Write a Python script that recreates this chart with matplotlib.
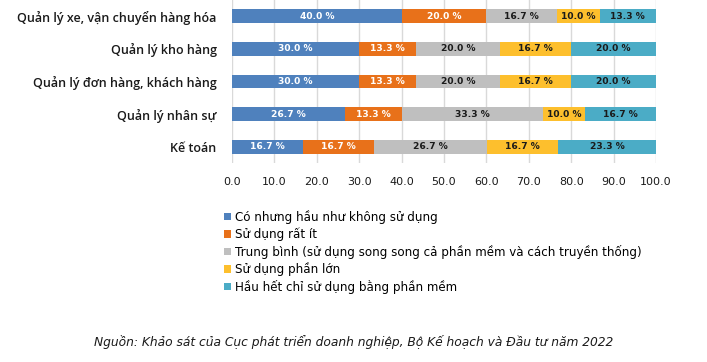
import matplotlib
matplotlib.use("Agg")
import matplotlib.pyplot as plt
from matplotlib.patches import Patch

plt.rcParams['font.family'] = ['DejaVu Sans']

categories = ["Quản lý xe, vận chuyển hàng hóa", "Quản lý kho hàng",
              "Quản lý đơn hàng, khách hàng", "Quản lý nhân sự", "Kế toán"]
series_names = ["Có nhưng hầu như không sử dụng", "Sử dụng rất ít",
                "Trung bình (sử dụng song song cả phần mềm và cách truyền thống)",
                "Sử dụng phần lớn", "Hầu hết chỉ sử dụng bằng phần mềm"]
s1 = [40.0, 30.0, 30.0, 26.7, 16.7]
s2 = [20.0, 13.3, 13.3, 13.3, 16.7]
s3 = [16.7, 20.0, 20.0, 33.3, 26.7]
s4 = [10.0, 16.7, 16.7, 10.0, 16.7]
s5 = [13.3, 20.0, 20.0, 16.7, 23.3]
xticks = [0, 10, 20, 30, 40, 50, 60, 70, 80, 90, 100]
source = "Nguồn: Khảo sát của Cục phát triển doanh nghiệp, Bộ Kế hoạch và Đầu tư năm 2022"

colors = ["#4F81BD", "#E8711A", "#BFBFBF", "#FDBF2D", "#4BACC6"]
text_colors = ["white", "white", "#1a1a1a", "#1a1a1a", "#1a1a1a"]

fig = plt.figure(figsize=(7.07, 3.62), dpi=100)
ax = fig.add_axes([232/707, 1 - 163/362, (656-232)/707, 163/362])

ypos = list(range(len(categories)))
left = [0.0] * len(categories)
for vals, col, tc in zip([s1, s2, s3, s4, s5], colors, text_colors):
    bars = ax.barh(ypos, vals, left=left, height=0.42, color=col, zorder=3)
    for b, v in zip(bars, vals):
        ax.text(b.get_x() + b.get_width() / 2, b.get_y() + b.get_height() / 2,
                f"{v:.1f} %", ha="center", va="center", color=tc,
                fontsize=6.6, fontweight="bold", zorder=4)
    left = [l + v for l, v in zip(left, vals)]

ax.set_xlim(0, 100)
ax.set_ylim(len(categories) - 0.5, -0.5)
ax.set_yticks(ypos)
ax.set_yticklabels(categories, fontsize=9.0, fontweight="semibold", color="#1a1a1a",
                   family=["Open Sans", "DejaVu Sans"])
ax.set_xticks(xticks)
ax.set_xticklabels([f"{x:.1f}" for x in xticks], fontsize=8, color="#1a1a1a")
ax.tick_params(axis="y", length=0, pad=11)
ax.tick_params(axis="x", length=0, pad=10)
ax.grid(axis="x", color="#D9D9D9", linewidth=1, zorder=0)
for s in ax.spines.values():
    s.set_visible(False)

handles = [Patch(facecolor=c, edgecolor="none") for c in colors]
fig.legend(handles, series_names, loc="upper left", bbox_to_anchor=(224/707, 1 - 210/362),
           frameon=False, fontsize=8.6, handlelength=0.6, handleheight=0.6,
           handletextpad=0.3, labelspacing=0.3, borderaxespad=0, borderpad=0)

fig.text(0.5, 1 - 342/362, source, ha="center", va="center", fontsize=8.8,
         style="italic", color="#1a1a1a")

fig.savefig("out.png", dpi=100)
